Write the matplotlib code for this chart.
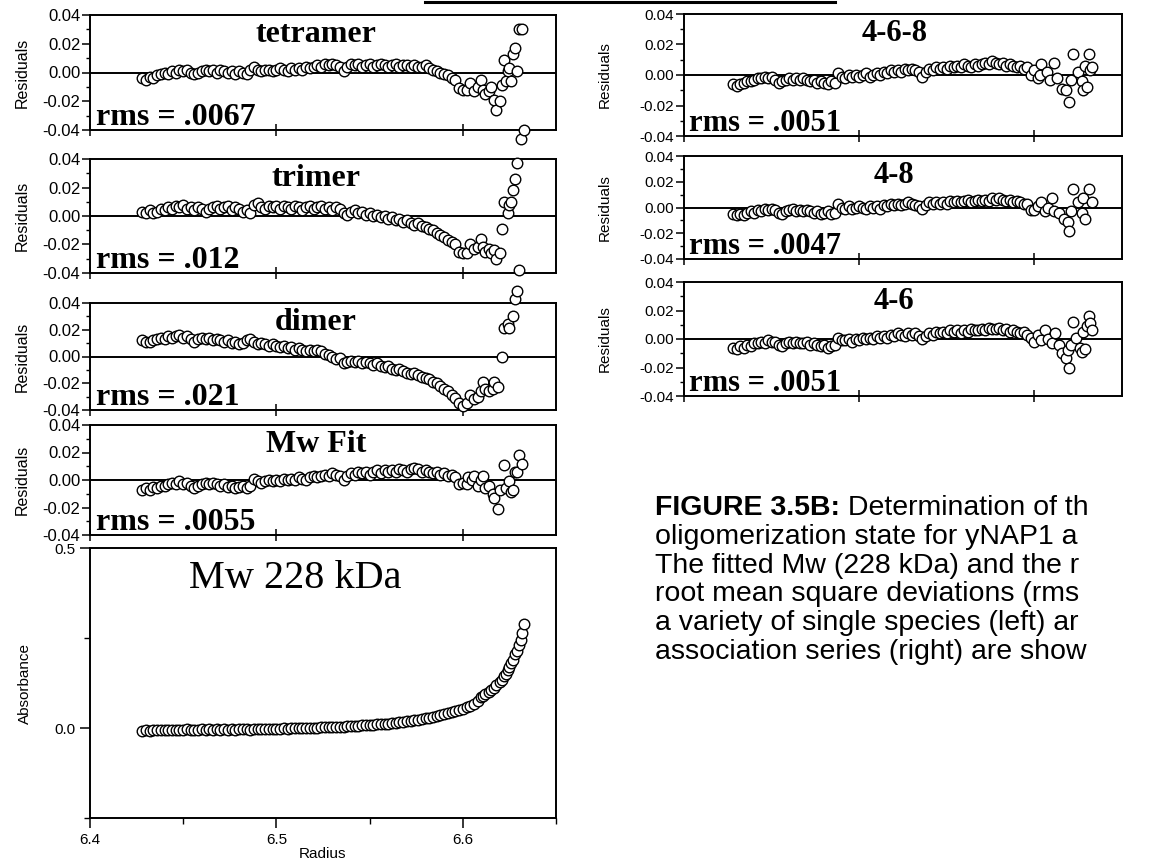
import matplotlib
matplotlib.use("Agg")
import matplotlib.pyplot as plt
from matplotlib.ticker import MultipleLocator, FormatStrFormatter, NullFormatter
from matplotlib.lines import Line2D

plt.rcParams['axes.unicode_minus'] = False
plt.rcParams['font.family'] = ['Liberation Sans', 'DejaVu Sans']

W, H = 1154, 865

# ---------------------------------------------------------------- data
# radial positions shared by the smooth part of every scan (cm)
radius = [
    6.428, 6.430, 6.432, 6.434, 6.436, 6.438, 6.440, 6.442, 6.444, 6.446,
    6.448, 6.450, 6.452, 6.454, 6.456, 6.458, 6.460, 6.462, 6.464, 6.466,
    6.468, 6.470, 6.472, 6.474, 6.476, 6.478, 6.480, 6.482, 6.484, 6.486,
    6.488, 6.490, 6.492, 6.494, 6.496, 6.498, 6.500, 6.502, 6.504, 6.506,
    6.508, 6.510, 6.512, 6.514, 6.516, 6.518, 6.520, 6.522, 6.524, 6.526,
    6.528, 6.530, 6.532, 6.534, 6.536, 6.538, 6.540, 6.542, 6.544, 6.546,
    6.548, 6.550, 6.552, 6.554, 6.556, 6.558, 6.560, 6.562, 6.564, 6.566,
    6.568, 6.570, 6.572, 6.574, 6.576, 6.578, 6.580, 6.582, 6.584, 6.586,
    6.588, 6.590, 6.592, 6.594, 6.596,
]

# residuals, single-species fits
tetramer = [
    -0.004, -0.005, -0.003, -0.004, -0.002, -0.001, 0.000, -0.001, 0.001, 0.000,
    0.002, 0.001, 0.002, 0.000, -0.001, 0.000, 0.001, 0.002, 0.001, 0.002,
    0.000, 0.002, 0.001, 0.000, 0.001, -0.001, 0.001, 0.000, -0.001, 0.002,
    0.004, 0.002, 0.001, 0.002, 0.002, 0.001, 0.002, 0.003, 0.002, 0.001,
    0.003, 0.002, 0.003, 0.002, 0.004, 0.003, 0.004, 0.005, 0.004, 0.006,
    0.005, 0.006, 0.005, 0.004, 0.001, 0.004, 0.006, 0.005, 0.006, 0.004,
    0.005, 0.006, 0.004, 0.005, 0.006, 0.005, 0.004, 0.005, 0.006, 0.004,
    0.005, 0.005, 0.004, 0.005, 0.004, 0.004, 0.005, 0.003, 0.002, 0.001,
    0.000, -0.001, -0.002, -0.004, -0.005,
]
tetramer_tail_r = [6.598, 6.600, 6.602, 6.604, 6.606, 6.608, 6.610, 6.611, 6.612,
                   6.614, 6.615, 6.617, 6.618, 6.620, 6.621, 6.622, 6.623, 6.624,
                   6.625, 6.626, 6.627, 6.628, 6.629, 6.630, 6.631, 6.632, 6.633]
tetramer_tail = [-0.011, -0.012, -0.012, -0.007, -0.013, -0.010, -0.005, -0.012, -0.015,
                 -0.013, -0.010, -0.019, -0.026, -0.020, -0.009, 0.009, -0.006, 0.001,
                 0.003, -0.006, 0.013, 0.017, 0.001, 0.030, -0.046, 0.030, -0.040]

trimer = [
    0.003, 0.002, 0.004, 0.002, 0.003, 0.005, 0.004, 0.006, 0.005, 0.007,
    0.006, 0.008, 0.005, 0.006, 0.004, 0.006, 0.005, 0.003, 0.005, 0.006,
    0.007, 0.005, 0.006, 0.007, 0.004, 0.006, 0.005, 0.003, 0.004, 0.002,
    0.008, 0.009, 0.006, 0.005, 0.007, 0.006, 0.007, 0.005, 0.007, 0.006,
    0.005, 0.007, 0.006, 0.004, 0.006, 0.007, 0.005, 0.006, 0.007, 0.005,
    0.006, 0.004, 0.006, 0.005, 0.002, 0.001, 0.003, 0.004, 0.002, 0.003,
    0.001, 0.002, 0.000, 0.001, -0.001, 0.000, -0.002, -0.001, -0.003, -0.002,
    -0.004, -0.003, -0.005, -0.006, -0.005, -0.007, -0.008, -0.009, -0.010, -0.012,
    -0.013, -0.015, -0.017, -0.018, -0.020,
]
trimer_tail_r = [6.598, 6.600, 6.602, 6.604, 6.606, 6.608, 6.610, 6.611, 6.612,
                 6.614, 6.615, 6.617, 6.618, 6.620, 6.621, 6.622, 6.624, 6.625,
                 6.626, 6.627, 6.628, 6.629, 6.630]
trimer_tail = [-0.025, -0.026, -0.026, -0.020, -0.023, -0.022, -0.016, -0.022, -0.025,
               -0.023, -0.026, -0.024, -0.030, -0.026, -0.009, 0.010, 0.002, 0.008,
               0.010, 0.018, 0.026, 0.037, -0.038]

dimer = [
    0.012, 0.011, 0.011, 0.012, 0.013, 0.014, 0.013, 0.015, 0.014, 0.015,
    0.016, 0.014, 0.015, 0.013, 0.011, 0.013, 0.014, 0.013, 0.014, 0.012,
    0.013, 0.012, 0.011, 0.012, 0.010, 0.011, 0.009, 0.010, 0.012, 0.013,
    0.011, 0.009, 0.010, 0.009, 0.008, 0.009, 0.008, 0.007, 0.008, 0.006,
    0.007, 0.005, 0.006, 0.005, 0.004, 0.005, 0.004, 0.005, 0.004, 0.002,
    0.001, 0.000, -0.002, -0.001, -0.005, -0.004, -0.003, -0.004, -0.003, -0.005,
    -0.004, -0.005, -0.006, -0.005, -0.007, -0.008, -0.007, -0.009, -0.010, -0.009,
    -0.011, -0.012, -0.013, -0.012, -0.014, -0.015, -0.016, -0.017, -0.019, -0.020,
    -0.022, -0.024, -0.026, -0.029, -0.031,
]
dimer_tail_r = [6.598, 6.600, 6.602, 6.604, 6.606, 6.608, 6.610, 6.611, 6.612, 6.614,
                6.616, 6.617, 6.619, 6.621, 6.622, 6.624, 6.625, 6.627, 6.628, 6.629]
dimer_tail = [-0.035, -0.037, -0.035, -0.029, -0.032, -0.030, -0.026, -0.019, -0.024, -0.026,
              -0.024, -0.019, -0.023, 0.000, 0.021, 0.024, 0.021, 0.030, 0.043, 0.049]

mw_fit = [
    -0.007, -0.006, -0.007, -0.005, -0.006, -0.004, -0.004, -0.003, -0.002, -0.003,
    -0.001, -0.003, -0.002, -0.004, -0.006, -0.004, -0.003, -0.002, -0.003, -0.002,
    -0.003, -0.004, -0.003, -0.005, -0.004, -0.006, -0.005, -0.004, -0.006, -0.004,
    0.001, -0.001, -0.002, -0.001, 0.000, -0.001, 0.000, -0.001, 0.001, 0.000,
    0.001, 0.000, 0.002, 0.001, 0.000, 0.002, 0.003, 0.002, 0.003, 0.004,
    0.003, 0.005, 0.004, 0.003, 0.000, 0.003, 0.005, 0.004, 0.006, 0.005,
    0.006, 0.004, 0.006, 0.007, 0.005, 0.007, 0.006, 0.007, 0.006, 0.008,
    0.007, 0.006, 0.008, 0.009, 0.008, 0.006, 0.007, 0.006, 0.005, 0.006,
    0.004, 0.005, 0.003, 0.004, 0.002,
]
mw_fit_tail_r = [6.598, 6.600, 6.602, 6.603, 6.605, 6.606, 6.608, 6.610, 6.611, 6.612,
                 6.614, 6.616, 6.617, 6.619, 6.620, 6.622, 6.623, 6.625, 6.626, 6.627,
                 6.628, 6.629, 6.630, 6.632]
mw_fit_tail = [-0.003, -0.002, -0.003, 0.002, 0.000, 0.003, -0.004, 0.000, 0.003, -0.006,
               -0.004, -0.010, -0.013, -0.021, -0.007, 0.011, -0.006, -0.001, -0.009, -0.007,
               0.006, 0.006, 0.018, 0.012]

# residuals, association-series fits
assoc_468 = [
    -0.006, -0.007, -0.006, -0.005, -0.004, -0.004, -0.003, -0.002, -0.002, -0.001,
    -0.002, -0.001, -0.003, -0.005, -0.004, -0.003, -0.002, -0.003, -0.002, -0.003,
    -0.002, -0.003, -0.004, -0.003, -0.005, -0.004, -0.005, -0.006, -0.004, -0.005,
    0.001, -0.001, -0.002, 0.000, -0.001, 0.000, -0.001, 0.000, 0.001, -0.001,
    0.000, 0.001, 0.000, 0.002, 0.001, 0.003, 0.002, 0.003, 0.002, 0.004,
    0.003, 0.004, 0.003, 0.002, -0.001, 0.002, 0.004, 0.003, 0.005, 0.004,
    0.005, 0.004, 0.006, 0.005, 0.006, 0.005, 0.007, 0.006, 0.005, 0.007,
    0.006, 0.007, 0.008, 0.007, 0.009, 0.008, 0.007, 0.008, 0.006, 0.007,
    0.006, 0.005, 0.006, 0.004, 0.005,
]
assoc_468_tail_r = [6.598, 6.600, 6.602, 6.603, 6.604, 6.607, 6.609, 6.611, 6.613, 6.616,
                    6.618, 6.620, 6.621, 6.622, 6.625, 6.627, 6.628, 6.629, 6.630, 6.631,
                    6.632, 6.633]
assoc_468_tail = [0.000, 0.003, -0.002, 0.000, 0.007, 0.002, -0.003, 0.008, -0.002, -0.009,
                  -0.010, -0.018, -0.003, 0.014, 0.002, -0.004, -0.010, 0.006, -0.008, 0.014,
                  0.003, 0.005]

assoc_48 = [
    -0.005, -0.006, -0.005, -0.006, -0.004, -0.003, -0.004, -0.002, -0.003, -0.001,
    -0.002, -0.001, -0.002, -0.004, -0.005, -0.003, -0.002, -0.001, -0.003, -0.002,
    -0.003, -0.002, -0.003, -0.004, -0.003, -0.005, -0.004, -0.003, -0.005, -0.004,
    0.003, 0.000, -0.001, 0.001, -0.001, 0.000, 0.001, 0.000, -0.001, 0.001,
    0.000, 0.001, -0.001, 0.002, 0.001, 0.003, 0.002, 0.003, 0.002, 0.003,
    0.004, 0.003, 0.002, 0.001, -0.001, 0.002, 0.004, 0.003, 0.004, 0.003,
    0.004, 0.003, 0.005, 0.004, 0.005, 0.004, 0.005, 0.006, 0.004, 0.005,
    0.006, 0.005, 0.006, 0.005, 0.007, 0.006, 0.007, 0.006, 0.005, 0.006,
    0.004, 0.005, 0.004, 0.003, 0.003,
]
assoc_48_tail_r = [6.598, 6.600, 6.602, 6.604, 6.606, 6.608, 6.610, 6.611, 6.614, 6.617,
                   6.619, 6.620, 6.621, 6.622, 6.625, 6.627, 6.628, 6.629, 6.631, 6.633]
assoc_48_tail = [-0.002, -0.002, 0.001, 0.004, -0.003, 0.000, 0.007, -0.003, -0.004, -0.009,
                 -0.011, -0.018, -0.003, 0.014, 0.004, -0.004, 0.007, -0.009, 0.014, 0.004]

assoc_46 = [
    -0.006, -0.007, -0.005, -0.006, -0.004, -0.005, -0.003, -0.003, -0.002, -0.003,
    -0.001, -0.002, -0.002, -0.004, -0.005, -0.003, -0.002, -0.003, -0.002, -0.003,
    -0.003, -0.002, -0.004, -0.003, -0.004, -0.005, -0.004, -0.006, -0.005, -0.004,
    0.001, -0.001, -0.001, 0.000, -0.002, 0.000, -0.001, 0.001, 0.000, 0.001,
    0.000, 0.002, 0.001, 0.002, 0.001, 0.003, 0.002, 0.004, 0.003, 0.002,
    0.004, 0.003, 0.004, 0.002, 0.000, 0.002, 0.004, 0.003, 0.005, 0.004,
    0.005, 0.004, 0.006, 0.005, 0.006, 0.004, 0.006, 0.005, 0.007, 0.006,
    0.006, 0.007, 0.006, 0.008, 0.007, 0.007, 0.008, 0.006, 0.007, 0.005,
    0.006, 0.005, 0.004, 0.005, 0.003,
]
assoc_46_tail_r = [6.598, 6.600, 6.602, 6.604, 6.606, 6.608, 6.610, 6.612, 6.614, 6.616,
                   6.618, 6.619, 6.620, 6.621, 6.622, 6.624, 6.626, 6.627, 6.628, 6.629,
                   6.630, 6.631, 6.632, 6.633]
assoc_46_tail = [0.001, -0.002, 0.003, -0.001, 0.006, 0.000, -0.003, 0.004, -0.004, -0.010,
                 -0.013, -0.008, -0.020, -0.004, 0.012, 0.001, -0.006, -0.009, 0.005, -0.007,
                 0.009, 0.016, 0.011, 0.006]

# absorbance scan
absorbance = [
    -0.007, -0.006, -0.007, -0.006, -0.006, -0.005, -0.006, -0.005, -0.005, -0.006,
    -0.005, -0.005, -0.004, -0.005, -0.006, -0.005, -0.004, -0.005, -0.004, -0.005,
    -0.004, -0.005, -0.004, -0.005, -0.004, -0.005, -0.004, -0.003, -0.004, -0.005,
    -0.002, -0.003, -0.003, -0.002, -0.003, -0.002, -0.002, -0.002, -0.001, -0.002,
    -0.001, -0.001, 0.000, -0.001, 0.000, 0.001, 0.000, 0.001, 0.002, 0.002,
    0.003, 0.003, 0.002, 0.004, 0.003, 0.005, 0.005, 0.006, 0.006, 0.007,
    0.008, 0.008, 0.009, 0.010, 0.011, 0.012, 0.012, 0.014, 0.015, 0.016,
    0.017, 0.019, 0.020, 0.022, 0.023, 0.025, 0.027, 0.029, 0.031, 0.033,
    0.036, 0.038, 0.041, 0.044, 0.047,
]
absorbance_tail_r = [6.598, 6.600, 6.602, 6.604, 6.606, 6.608, 6.610, 6.611, 6.612,
                     6.614, 6.615, 6.617, 6.618, 6.620, 6.621, 6.622, 6.623, 6.624,
                     6.625, 6.626, 6.627, 6.628, 6.629, 6.630, 6.631, 6.632, 6.633]
absorbance_tail = [0.050, 0.054, 0.058, 0.062, 0.068, 0.075, 0.085, 0.090, 0.094,
                   0.100, 0.105, 0.112, 0.120, 0.128, 0.132, 0.145, 0.150, 0.160,
                   0.170, 0.180, 0.190, 0.205, 0.215, 0.230, 0.245, 0.265, 0.290]

left_titles = ["tetramer", "trimer", "dimer", "Mw Fit"]
left_rms = ["rms = .0067", "rms = .012", "rms = .021", "rms = .0055"]
right_titles = ["4-6-8", "4-8", "4-6"]
right_rms = ["rms = .0051", "rms = .0047", "rms = .0051"]
mw_label = "Mw 228 kDa"

# caption as it appears on the page (the right margin trims each line)
caption_lines = [
    ("FIGURE 3.5B:", " Determination of th"),
    ("", "oligomerization state for yNAP1 a"),
    ("", "The fitted Mw (228 kDa) and the r"),
    ("", "root mean square deviations (rms"),
    ("", "a variety of single species (left) ar"),
    ("", "association series (right) are show"),
]

# ---------------------------------------------------------------- drawing
SERIF = ['Liberation Serif', 'DejaVu Serif']
fig = plt.figure(figsize=(W / 100, H / 100), dpi=100)
fig.patch.set_facecolor('white')


def px_axes(left, top, right, bottom):
    return fig.add_axes([left / W, 1 - bottom / H, (right - left) / W, (bottom - top) / H])


def style_box(ax):
    for s in ax.spines.values():
        s.set_linewidth(1.4)
        s.set_color('black')


def residual_panel(box, r, v, tr, tv, title, rms, title_x, text_size, tick_size,
                   label_size, label_pad):
    ax = px_axes(*box)
    style_box(ax)
    h = box[3] - box[1]
    ax.set_xlim(6.4, 6.65)
    ax.set_ylim(-0.04, 0.04)
    ax.axhline(0.0, color='black', lw=1.4, zorder=1)
    ax.plot(list(r) + list(tr), list(v) + list(tv), linestyle='none', marker='o',
            ms=7.6, mfc='white', mec='black', mew=1.0, clip_on=False, zorder=3)
    ax.yaxis.set_major_locator(MultipleLocator(0.02))
    ax.yaxis.set_minor_locator(MultipleLocator(0.01))
    ax.yaxis.set_major_formatter(FormatStrFormatter('%.2f'))
    ax.set_xticks([6.4, 6.5, 6.6])
    ax.xaxis.set_major_formatter(NullFormatter())
    ax.tick_params(axis='y', which='major', direction='out', length=6, width=1.1,
                   labelsize=tick_size, pad=1)
    ax.tick_params(axis='y', which='minor', direction='out', length=3, width=1.0)
    ax.tick_params(axis='x', which='major', direction='inout', length=9, width=1.1)
    ax.set_ylabel('Residuals', fontsize=label_size, labelpad=label_pad)
    ax.text(title_x, 1 - 5 / h, title, transform=ax.transAxes, ha='center', va='top',
            family=SERIF, fontweight='bold', fontsize=text_size, zorder=5)
    ax.text(0.012, 5 / h, rms, transform=ax.transAxes, ha='left', va='baseline',
            family=SERIF, fontweight='bold', fontsize=text_size, zorder=5)
    return ax


left_boxes = [(90, 15, 556, 130), (90, 159, 556, 273), (90, 303, 556, 410), (90, 425, 556, 535)]
left_data = [
    (tetramer, tetramer_tail_r, tetramer_tail),
    (trimer, trimer_tail_r, trimer_tail),
    (dimer, dimer_tail_r, dimer_tail),
    (mw_fit, mw_fit_tail_r, mw_fit_tail),
]
for box, (v, tr, tv), title, rms in zip(left_boxes, left_data, left_titles, left_rms):
    residual_panel(box, radius, v, tr, tv, title, rms, 0.485, 23, 12, 11.5, 9)

right_boxes = [(684, 14, 1122, 136), (684, 156, 1122, 259), (684, 282, 1122, 396)]
right_data = [
    (assoc_468, assoc_468_tail_r, assoc_468_tail),
    (assoc_48, assoc_48_tail_r, assoc_48_tail),
    (assoc_46, assoc_46_tail_r, assoc_46_tail),
]
for box, (v, tr, tv), title, rms in zip(right_boxes, right_data, right_titles, right_rms):
    residual_panel(box, radius, v, tr, tv, title, rms, 0.48, 22, 11, 11, 20)

# absorbance panel
ax = px_axes(90, 548, 556, 818)
style_box(ax)
ax.set_xlim(6.4, 6.65)
ax.set_ylim(-0.25, 0.5)
ax.plot(list(radius) + absorbance_tail_r, list(absorbance) + absorbance_tail,
        linestyle='none', marker='o', ms=7.6, mfc='white', mec='black', mew=1.0,
        clip_on=False, zorder=3)
ax.set_yticks([0.0, 0.5])
ax.set_yticks([-0.25, 0.25], minor=True)
ax.yaxis.set_major_formatter(FormatStrFormatter('%.1f'))
ax.set_xticks([6.4, 6.5, 6.6])
ax.set_xticks([6.45, 6.55, 6.65], minor=True)
ax.xaxis.set_major_formatter(FormatStrFormatter('%.1f'))
ax.tick_params(axis='both', which='major', direction='out', length=7, width=1.1,
               labelsize=11)
ax.tick_params(axis='both', which='minor', direction='out', length=4, width=1.0)
ax.set_xlabel('Radius', fontsize=11, labelpad=0)
ax.set_ylabel('Absorbance', fontsize=11, labelpad=16)
ax.text(0.44, 0.955, mw_label, transform=ax.transAxes, ha='center', va='top',
        family=SERIF, fontsize=29)

# caption block
cap_x, cap_y, line_h, cap_size = 655 / W, 1 - 495 / H, 28.8 / H, 20.5
for i, (bold, rest) in enumerate(caption_lines):
    y = cap_y - i * line_h
    if bold:
        t = fig.text(cap_x, y, bold, fontsize=cap_size, fontweight='bold', va='top', ha='left')
        fig.canvas.draw()
        bb = t.get_window_extent()
        fig.text(bb.x1 / W, y, rest, fontsize=cap_size, va='top', ha='left')
    else:
        fig.text(cap_x, y, rest, fontsize=cap_size, va='top', ha='left')

# rule along the top edge
fig.add_artist(Line2D([425 / W, 835 / W], [1 - 2 / H, 1 - 2 / H], color='black', lw=2.2))

fig.savefig('out.png', dpi=100, facecolor='white')
